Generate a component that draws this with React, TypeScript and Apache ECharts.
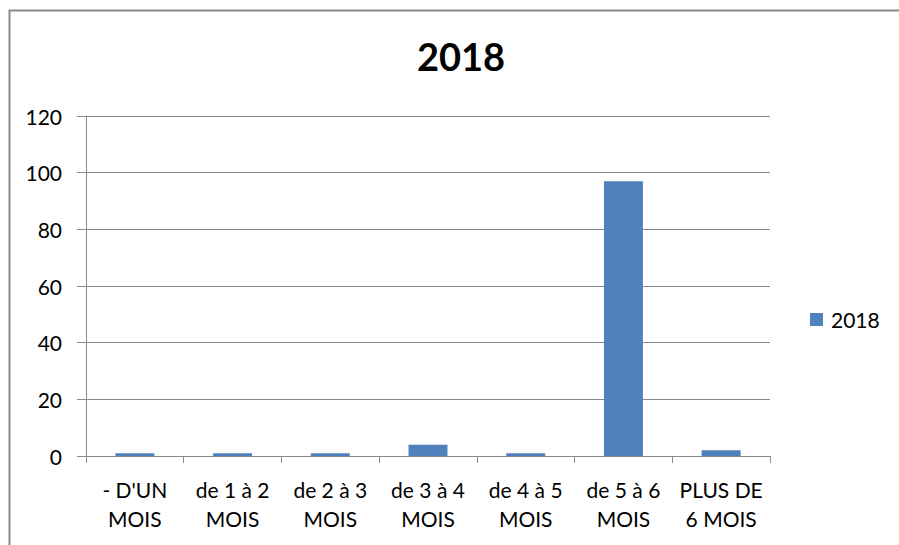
import React, { useEffect, useRef } from "react";
import * as echarts from "echarts";

const categories = [
  "- D'UN\nMOIS",
  "de 1 à 2\nMOIS",
  "de 2 à 3\nMOIS",
  "de 3 à 4\nMOIS",
  "de 4 à 5\nMOIS",
  "de 5 à 6\nMOIS",
  "PLUS DE\n6 MOIS",
];
const values2018 = [1, 1, 1, 4, 1, 97, 2];
const seriesName = "2018";
const titleText = "2018";

const FONT = "Lato";
const GRAY = "#8a8a8a";

export default function App() {
  const ref = useRef<HTMLDivElement>(null);
  useEffect(() => {
    if (!ref.current) return;
    const chart = echarts.init(ref.current, undefined, { renderer: "svg" });
    chart.setOption({
      animation: false,
      backgroundColor: "#ffffff",
      title: {
        text: titleText,
        left: 456,
        top: 32,
        textAlign: "center",
        textStyle: { fontFamily: FONT, fontWeight: "bold", fontSize: 38, color: "#000" },
      },
      legend: {
        left: 805,
        top: 304,
        icon: "rect",
        itemWidth: 13,
        itemHeight: 13,
        data: [seriesName],
        textStyle: { fontFamily: FONT, fontSize: 21, color: "#000", padding: [0, 0, 0, 3] },
      },
      grid: { left: 86, right: 129, top: 116, bottom: 89, containLabel: false },
      xAxis: {
        type: "category",
        data: categories,
        boundaryGap: true,
        axisLine: { show: true, lineStyle: { color: GRAY, width: 1 } },
        axisTick: { show: true, alignWithLabel: false, length: 7, lineStyle: { color: GRAY } },
        axisLabel: {
          interval: 0,
          margin: 19,
          fontFamily: FONT,
          fontSize: 21,
          color: "#000",
          lineHeight: 29,
        },
      },
      yAxis: {
        type: "value",
        min: 0,
        max: 120,
        interval: 20,
        axisLine: { show: true, lineStyle: { color: GRAY, width: 1 } },
        axisTick: { show: true, length: 9, lineStyle: { color: GRAY } },
        splitLine: { show: true, lineStyle: { color: GRAY, width: 1 } },
        axisLabel: { margin: 24, fontFamily: FONT, fontSize: 21, color: "#000" },
      },
      series: [
        {
          name: seriesName,
          type: "bar",
          data: values2018,
          barWidth: 39,
          itemStyle: { color: "#4F81BD" },
        },
      ],
      graphic: [
        {
          type: "rect",
          shape: { x: 9.5, y: 10.5, width: 1200, height: 1200 },
          style: { fill: "none", stroke: GRAY, lineWidth: 2 },
          silent: true,
        },
      ],
    });
    return () => chart.dispose();
  }, []);
  return (
    <div
      ref={ref}
      style={{ position: "fixed", left: 0, top: 0, width: 899, height: 545 }}
    />
  );
}
